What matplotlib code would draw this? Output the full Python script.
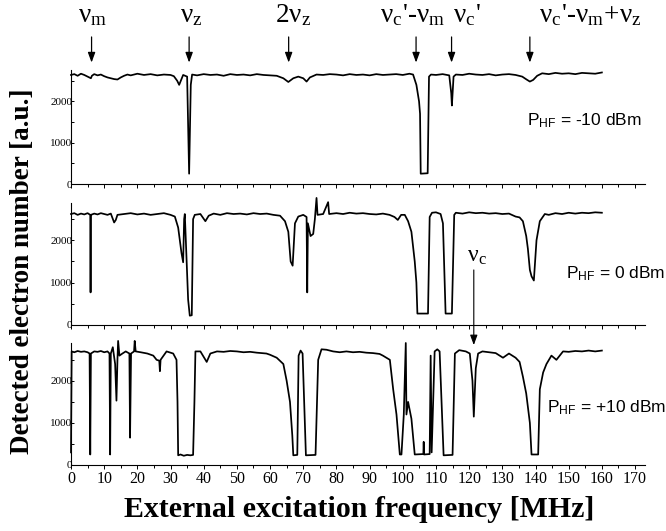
import numpy as np
import matplotlib
matplotlib.use("Agg")
import matplotlib.pyplot as plt
from matplotlib.ticker import MultipleLocator

plt.rcParams['font.family'] = ['Liberation Serif', 'DejaVu Serif']
plt.rcParams['mathtext.fontset'] = 'stix'

# ---- P_HF = -10 dBm
f_m10 = [0, 1, 2, 3, 4, 5, 6, 6.3, 7, 8, 9, 10, 11, 12, 13, 14, 15, 16, 17, 18, 20, 22, 24, 26, 28, 30,
         31, 32, 32.6, 33.2, 33.8, 35.0, 35.6, 36.1, 36.5, 38, 40, 42, 44, 46, 48, 50, 52, 54, 56, 58, 60,
         62, 64, 65.5, 67, 68.5, 70, 71, 72, 74, 76, 78, 80, 82, 84, 86, 88, 90, 92, 94, 96, 98, 100, 102,
         103.1, 104.1, 104.9, 105.2, 105.4, 107.5, 107.9, 108.5, 110, 112, 114, 114.6, 114.8, 115.3, 116,
         118, 120, 122, 124, 126, 128, 130, 132, 134, 136, 137.3, 138.3, 139.3, 140.5, 142, 144, 146, 148,
         150, 152, 154, 156, 158, 160]
n_m10 = [2640, 2660, 2620, 2670, 2640, 2600, 2560, 2620, 2660, 2630, 2650, 2610, 2580, 2560, 2540, 2530,
         2580, 2620, 2650, 2630, 2670, 2640, 2660, 2630, 2650, 2640,
         2610, 2500, 2400, 2520, 2640, 2600, 250, 2400, 2650, 2630, 2660, 2640, 2650, 2620, 2660, 2640,
         2650, 2630, 2660, 2640, 2630,
         2620, 2560, 2470, 2560, 2600, 2560, 2480, 2580, 2650, 2640, 2660, 2650, 2630, 2660, 2640, 2650,
         2630, 2660, 2640, 2650, 2660, 2640, 2670,
         2650, 2400, 2000, 1700, 250, 260, 2600, 2650, 2640, 2660, 2630, 2200, 1900, 2600, 2650,
         2640, 2670, 2650, 2640, 2660, 2630, 2650, 2660, 2640, 2600, 2530, 2480, 2520, 2620, 2680, 2660,
         2690, 2670, 2680, 2660, 2690, 2680, 2670, 2700]

# ---- P_HF = 0 dBm
f_0 = [0, 1, 2, 3, 4, 5, 5.8, 5.9, 6.0, 7, 8, 9, 10, 11, 12, 13, 13.5, 14, 16, 18, 20, 22, 24, 26, 28, 30,
       31.3, 32.3, 33.3, 33.8, 34.1, 34.3, 35.3, 35.8, 36.4, 36.8, 37.3, 39, 40.5, 41.5, 43, 45, 47, 49,
       51, 53, 55, 57, 59, 61, 63, 64.5, 65.5, 66.2, 66.8, 67.5, 68.5, 70, 71.0, 71.2, 71.4, 72.2, 73,
       73.5, 74.0, 74.3, 76, 77.5, 77.8, 80, 82, 84, 86, 88, 90, 92, 94, 96, 97.5, 98.5, 99.5, 100.6,
       101.6, 102.6, 103.6, 104.1, 104.4, 107.6, 108.1, 108.8, 110, 111.4, 112.1, 112.9, 114.8, 115.5,
       116, 118, 120, 122, 124, 126, 128, 130, 132, 134, 135.2, 136.2, 137.2, 137.7, 138.3, 138.8,
       139.5, 140.3, 141.3, 142.8, 144, 146, 148, 150, 152, 154, 156, 158, 160]
n_0 = [2620, 2640, 2600, 2630, 2610, 2640, 2600, 770, 2600, 2630, 2610, 2640, 2620, 2600, 2630, 2420, 2480,
       2600, 2620, 2640, 2610, 2630, 2600, 2620, 2640, 2600,
       2560, 2300, 1700, 1480, 2500, 2620, 600, 220, 230, 2500, 2600, 2620, 2450, 2580, 2630, 2600, 2640,
       2620, 2630, 2610, 2640, 2620, 2630, 2600, 2580, 2450, 2200, 1500, 1400, 2400, 2560, 2600, 2550,
       770, 2400, 2100, 2150, 2500, 3000, 2600, 2620, 2900, 2620, 2640, 2620, 2650, 2630, 2640, 2620,
       2610, 2630, 2600, 2550, 2480, 2600, 2600,
       2450, 2200, 1500, 1000, 270, 270, 2550, 2650, 2660, 2620, 2400, 270, 270, 2600,
       2650, 2630, 2660, 2640, 2650, 2630, 2640, 2620, 2630, 2560, 2540, 2450, 2100, 1800, 1300, 1150,
       1050, 2000, 2450, 2620, 2600, 2640, 2620, 2650, 2630, 2650, 2640, 2660, 2650]

# ---- P_HF = +10 dBm
f_p10 = [0, 0.2, 1, 2, 3, 4, 5, 5.6, 5.8, 6.0, 7, 8, 9, 10, 11, 11.6, 11.8, 12.0, 12.6, 13.3, 13.7,
         14.0, 14.2, 14.6, 15.5, 16.5, 17.6, 17.8, 18.1, 19, 19.2, 19.5, 21, 23, 24.8, 25.8, 26.6, 26.8,
         27.0, 28.8, 30.8, 31.8, 32.1, 32.3, 33, 34, 35, 36, 36.8, 37.2, 37.5, 39, 40.9, 42, 44, 46, 48,
         50, 52, 54, 56, 58.9, 60, 62, 64, 65, 66, 66.7, 67, 68.2, 68.6, 69.2, 69.8, 70.8, 73.7, 74.5,
         75.5, 77, 79, 81, 83, 85, 87, 89, 91, 93, 94, 96.1, 97.1, 98.1, 99.1, 99.6, 100.3, 100.9, 101.1,
         101.6, 102.1, 102.6, 103.6, 106.2, 106.3, 106.4, 108.1, 108.4, 108.7, 109.6, 110.4, 111.1, 112.3,
         115, 115.7, 117, 119, 120.2, 121, 121.4, 122, 122.7, 124, 126, 128, 130.2, 132, 134, 135.2,
         136.2, 137.2, 138.3, 138.8, 140.8, 141.3, 142.3, 143.3, 144.8, 146.3, 148.3, 150, 152, 154, 156,
         158, 160]
n_p10 = [300, 2700, 2680, 2710, 2690, 2700, 2680, 2650, 250, 2650, 2700, 2690, 2710, 2680, 2700, 2650, 250,
         2650, 2800, 2400, 1530,
         2500, 2950, 2600, 2650, 2700, 2650, 650, 2650, 2700, 2950, 2700, 2680, 2650, 2600, 2500, 2480, 2230,
         2500, 2700, 2650, 2500, 1500, 230, 250, 220, 240, 230, 240, 1500, 2700, 2700, 2450, 2650, 2700,
         2690, 2710, 2700, 2680, 2690, 2670, 2650, 2620, 2550, 2400, 2000, 1500, 700, 230, 240, 2600, 2720,
         2650, 230, 240, 2500, 2750, 2740, 2700, 2680, 2700, 2680, 2690, 2670, 2660, 2640, 2600, 2500, 1800,
         1200, 250, 250, 1200, 2900, 1200, 1500, 1300, 1100, 250, 260, 550, 250, 260, 2600, 300, 2700,
         2750, 2700, 230, 240, 2650, 2730, 2700, 2650, 2000, 1150, 2300, 2650, 2700, 2680, 2660, 2550,
         2650, 2550, 2450, 2100, 1700, 1000, 250, 250, 1800, 2200, 2400, 2600, 2500, 2700, 2690, 2710,
         2700, 2720, 2700, 2720]

# arrows on top
top_labels = ['ν$_\\mathregular{m}$', 'ν$_\\mathregular{z}$', '2ν$_\\mathregular{z}$',
              "ν$_\\mathregular{c}$'-ν$_\\mathregular{m}$", "ν$_\\mathregular{c}$'",
              "ν$_\\mathregular{c}$'-ν$_\\mathregular{m}$+ν$_\\mathregular{z}$"]
top_arrow_f = [6.2, 35.6, 65.6, 104.0, 114.7, 138.3]
top_label_f = [6.6, 36.2, 67.0, 103.0, 119.5, 156.5]

power_labels = ['-10 dBm', '0 dBm', '+10 dBm']

W, H = 666, 531
fig = plt.figure(figsize=(W / 100, H / 100), dpi=100)

def px(x0, y_top, x1, y_bot):
    return [x0 / W, 1 - y_bot / H, (x1 - x0) / W, (y_bot - y_top) / H]

ax1 = fig.add_axes(px(71, 70, 645, 184))
ax2 = fig.add_axes(px(71, 203, 645, 325))
ax3 = fig.add_axes(px(71, 343, 645, 465))
ylims = [2760, 2880, 2900]

for ax, f, n, ytop in zip([ax1, ax2, ax3], [f_m10, f_0, f_p10], [n_m10, n_0, n_p10], ylims):
    ax.plot(f, n, color='black', lw=1.25, clip_on=False)
    ax.set_xlim(0, 173)
    ax.set_ylim(0, ytop)
    for s in ['top', 'right']:
        ax.spines[s].set_visible(False)
    for s in ['left', 'bottom']:
        ax.spines[s].set_linewidth(0.8)
    ax.xaxis.set_major_locator(MultipleLocator(10))
    ax.xaxis.set_minor_locator(MultipleLocator(5))
    ax.set_yticks([0, 1000, 2000])
    ax.yaxis.set_minor_locator(MultipleLocator(500))
    ax.tick_params(axis='y', which='both', direction='in', length=2, width=0.7, labelsize=8, pad=-1)
    ax.tick_params(axis='x', which='major', direction='out', length=3, width=0.7, labelsize=11.5, pad=1)
    ax.tick_params(axis='x', which='minor', direction='out', length=2, width=0.7)

label_pos = [(ax1, 0.795, 0.56), (ax2, 0.862, 0.42), (ax3, 0.83, 0.47)]
for (ax, xx, yy), lab in zip(label_pos, power_labels):
    ax.text(xx, yy, r'$\mathregular{P_{HF}}$ = ' + lab, transform=ax.transAxes,
            family='Liberation Sans', fontsize=12.5, ha='left', va='center')

ax1.tick_params(axis='x', labelbottom=False)
ax2.tick_params(axis='x', labelbottom=False)

for lab, fa, fl in zip(top_labels, top_arrow_f, top_label_f):
    ax1.annotate('', xy=(fa, 2940), xytext=(fa, 3560), annotation_clip=False,
                 arrowprops=dict(arrowstyle='-|>,head_length=0.6,head_width=0.22', color='black',
                                 lw=0.9, shrinkA=0, shrinkB=0))
    ax1.text(fl, 4070, lab, fontsize=19.5, ha='center', va='center', clip_on=False)

# nu_c arrow spanning panels 2 and 3
ax3.annotate('', xy=(121.4, 2850), xycoords='data', xytext=(121.4, 1300), textcoords=ax2.transData,
             annotation_clip=False,
             arrowprops=dict(arrowstyle='-|>,head_length=0.6,head_width=0.22', color='black',
                             lw=0.8, shrinkA=0, shrinkB=0))
ax2.text(122.3, 1620, 'ν$_\\mathregular{c}$', fontsize=17, ha='center', va='center')

fig.text(0.034, 0.49, 'Detected electron number [a.u.]', rotation=90, fontsize=19.5,
         fontweight='bold', ha='center', va='center')
fig.text(0.54, 0.04, 'External excitation frequency [MHz]', fontsize=21.5,
         fontweight='bold', ha='center', va='center')

fig.savefig('out.png', dpi=100)
